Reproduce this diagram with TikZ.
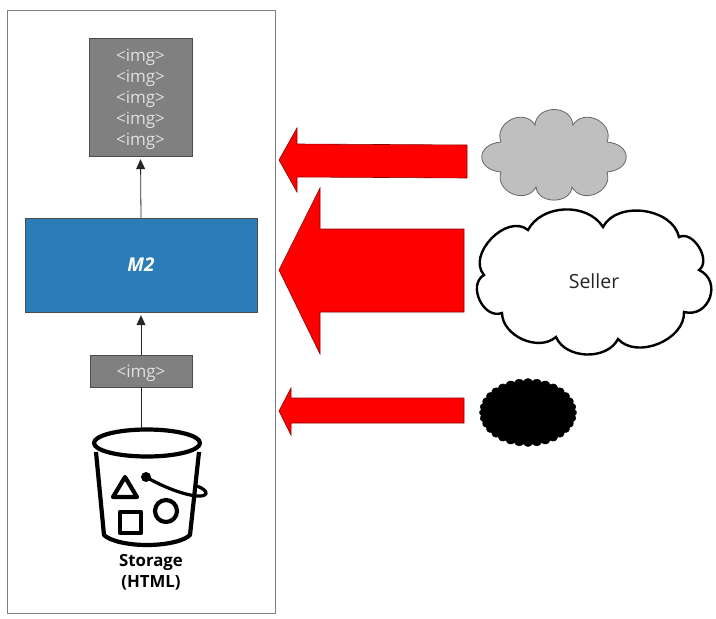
\documentclass[tikz,border=0pt]{standalone}
\usepackage{fontspec}
\setmainfont{Open Sans}
\usepackage{tikz}
\usetikzlibrary{arrows.meta,positioning,shapes.symbols}

\newcommand{\imgtag}{\raisebox{-2pt}[\height][\depth]{<img>}}

\begin{document}
\begin{tikzpicture}[
    x=1pt, y=-1pt,
    frame/.style={draw=black!50, line width=1pt},
    imgbox/.style={draw=black!70, fill=black!50, text=white!88!black, inner sep=0pt, align=center, font=\fontsize{17}{20.9}\selectfont},
    modelbox/.style={draw=black!70, fill=modelblue, text=white, inner sep=0pt, minimum width=232pt, minimum height=94pt, font=\fontsize{19}{22}\selectfont\bfseries\itshape},
    link/.style={draw=black!85, line width=0.8pt},
    flow/.style={link, -{Triangle[length=10pt, width=9pt]}, shorten >=3pt},
    redarrow/.style={draw=red!55!black, line width=0.6pt, fill=red},
    icon/.style={line width=4.2pt, line join=round},
    label/.style={inner sep=0pt, align=center},
    bump/.style={bend left=#1, looseness=1},
    bigbump/.style={bend left=85, looseness=#1}
]
\definecolor{modelblue}{HTML}{2A7DB6}

\useasboundingbox (0, 0) rectangle (716, 619);

% Outer frame
\draw[frame] (7, 10) rectangle (275.5, 613);

% Boxes
\node[imgbox, minimum width=103pt, minimum height=118pt] (imgstack) at (140.5, 97) {\imgtag\\\imgtag\\\imgtag\\\imgtag\\\imgtag};
\node[modelbox] (model) at (141, 265) {\raisebox{-1pt}{M2}};
\node[imgbox, minimum width=102pt, minimum height=32pt] (imgone) at (141, 371) {\imgtag};

% Bucket
\coordinate (buckettop) at (141, 428);
\draw[icon] (96, 452) -- (104, 535) .. controls (110, 541) and (128, 545) .. (147, 545) .. controls (166, 545) and (184, 541) .. (190, 535) -- (199, 452);
\draw[icon, fill=white] (147, 443) ellipse (53 and 13.5);
\draw[icon] (125, 477) -- (113, 497) -- (137, 497) -- cycle;
\draw[icon] (120, 512) rectangle (141, 533);
\draw[icon] (166, 511) circle (11);
\fill (146, 477) circle (5);
\draw[line width=3.2pt] (146, 477) .. controls (165, 488) and (185, 495) .. (197, 496) .. controls (208, 497) and (210, 491) .. (197, 486);
\node[label, font=\fontsize{16.8}{21}\selectfont\bfseries] (storage) at (151, 572) {Storage\\(HTML)};

% Connectors
\draw[link] (imgone.south) -- (buckettop);
\draw[flow] (imgone.north) -- (model.south);
\draw[flow] (model.north) -- (imgstack.south);

% Red arrows
\draw[redarrow] (467, 145) -- (297, 144) -- (297, 128) -- (279, 160) -- (297, 192) -- (297, 177) -- (467, 178) -- cycle;
\draw[redarrow] (464, 229) -- (320, 229) -- (320, 188) -- (279, 270) -- (320, 354) -- (320, 312) -- (464, 312) -- cycle;
\draw[redarrow] (464, 398) -- (291, 398) -- (291, 388) -- (279, 411) -- (291, 435) -- (291, 423) -- (464, 423) -- cycle;

% Clouds
\draw[draw=black!60, line width=0.8pt, fill=black!25]
    (535, 125) to[bigbump=1.4] (573, 125) to[bigbump=1.4] (607, 142) to[bigbump=2.2] (607, 172)
    to[bigbump=1.4] (572, 187) to[bigbump=1.25] (536, 187) to[bigbump=1.4] (501, 172)
    to[bigbump=2.2] (501, 142) to[bigbump=1.4] (535, 125) -- cycle;
\draw[draw=black, line width=2.4pt, fill=white]
    (528, 230) to[bump=60] (603, 227) to[bump=70] (679, 237) to[bigbump=1.05] (699, 270)
    to[bigbump=1.5] (684, 312) to[bump=70] (618, 339) to[bump=65] (556, 337)
    to[bump=65] (502, 313) to[bigbump=1.2] (484, 275) to[bigbump=1.1] (528, 230) -- cycle;
\node[label, font=\fontsize{19.5}{22}\selectfont, text=black!85] (seller) at (594, 281) {Seller};
\node[cloud, cloud puffs=32, cloud puff arc=125, aspect=1.4, fill=black, draw=black, inner sep=0pt, minimum width=97pt, minimum height=68pt] (darkcloud) at (528, 412.5) {};

\end{tikzpicture}
\end{document}
